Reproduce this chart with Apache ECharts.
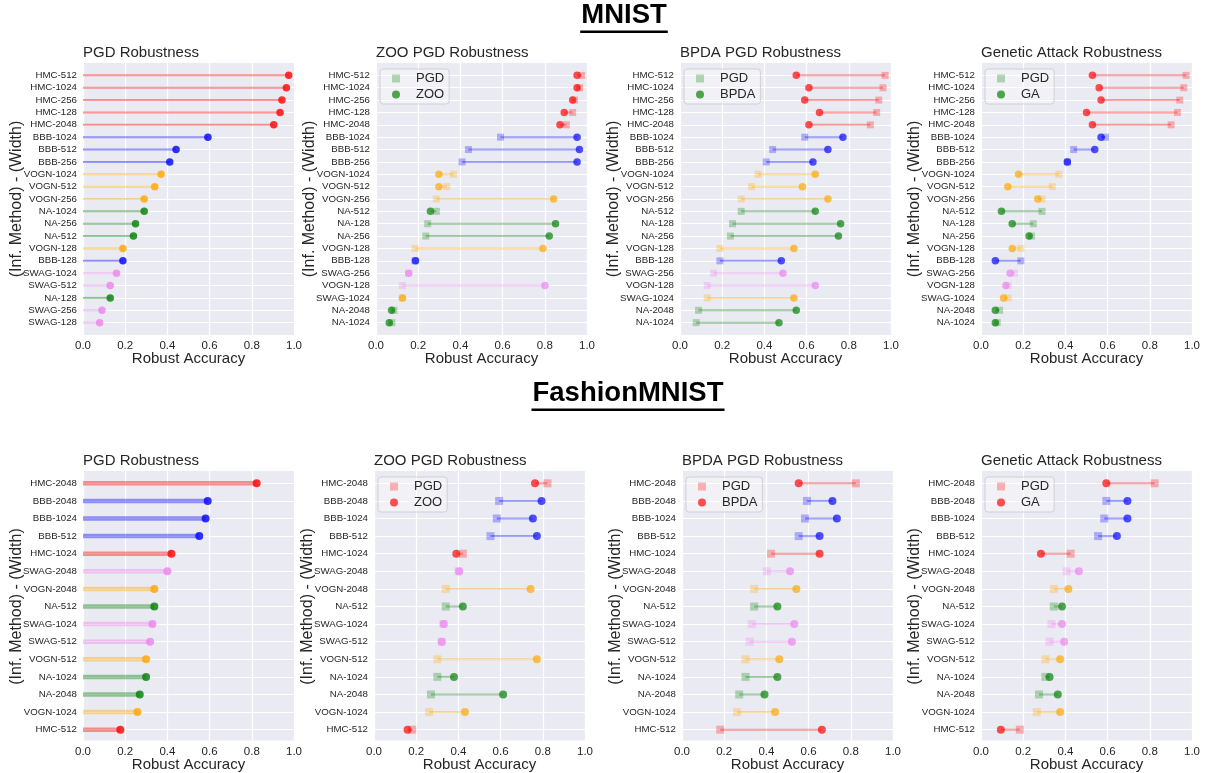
<!DOCTYPE html>
<html>
<head>
<meta charset="utf-8">
<title>Robustness</title>
<script src="https://cdn.jsdelivr.net/npm/echarts@6/dist/echarts.min.js"></script>
<style>
  html, body { margin: 0; padding: 0; background: #fff; }
  #chart { width: 1210px; height: 773px; }
</style>
</head>
<body>
<div id="chart"></div>
<script>
// ---- MNIST ----
const mnistPgdCats = ['HMC-512', 'HMC-1024', 'HMC-256', 'HMC-128', 'HMC-2048', 'BBB-1024', 'BBB-512', 'BBB-256',
  'VOGN-1024', 'VOGN-512', 'VOGN-256', 'NA-1024', 'NA-256', 'NA-512', 'VOGN-128', 'BBB-128',
  'SWAG-1024', 'SWAG-512', 'NA-128', 'SWAG-256', 'SWAG-128']
const mnistPgdVals = [0.975, 0.964, 0.943, 0.934, 0.904, 0.592, 0.441, 0.411, 0.370, 0.340, 0.290,
  0.290, 0.249, 0.239, 0.189, 0.189, 0.159, 0.129, 0.129, 0.090, 0.079]

const mnistAtkCats = ['HMC-512', 'HMC-1024', 'HMC-256', 'HMC-128', 'HMC-2048', 'BBB-1024', 'BBB-512', 'BBB-256',
  'VOGN-1024', 'VOGN-512', 'VOGN-256', 'NA-512', 'NA-128', 'NA-256', 'VOGN-128', 'BBB-128',
  'SWAG-256', 'VOGN-128', 'SWAG-1024', 'NA-2048', 'NA-1024']
// colour group of each row (as drawn in the original)
const mnistAtkGroups = ['HMC', 'HMC', 'HMC', 'HMC', 'HMC', 'BBB', 'BBB', 'BBB', 'VOGN', 'VOGN', 'VOGN',
  'NA', 'NA', 'NA', 'VOGN', 'BBB', 'SWAG', 'SWAG', 'VOGN', 'NA', 'NA']

const mnistZooPgd = [0.975, 0.965, 0.941, 0.932, 0.902, 0.590, 0.438, 0.408, 0.367, 0.335, 0.286,
  0.286, 0.245, 0.236, 0.185, 0.185, 0.155, 0.125, 0.125, 0.085, 0.075]
const mnistZoo = [0.953, 0.953, 0.932, 0.892, 0.872, 0.953, 0.964, 0.953, 0.298, 0.298, 0.842,
  0.258, 0.851, 0.821, 0.791, 0.187, 0.155, 0.801, 0.125, 0.074, 0.063]

const mnistBpdaPgd = [0.972, 0.962, 0.942, 0.932, 0.902, 0.591, 0.439, 0.409, 0.370, 0.339, 0.290,
  0.290, 0.249, 0.239, 0.189, 0.189, 0.159, 0.129, 0.129, 0.088, 0.077]
const mnistBpda = [0.551, 0.611, 0.591, 0.661, 0.611, 0.772, 0.701, 0.630, 0.641, 0.580, 0.701,
  0.641, 0.761, 0.751, 0.540, 0.480, 0.488, 0.641, 0.540, 0.551, 0.469]

const mnistGaPgd = [0.972, 0.961, 0.942, 0.931, 0.901, 0.590, 0.439, 0.410, 0.369, 0.338, 0.289,
  0.289, 0.248, 0.239, 0.189, 0.189, 0.159, 0.129, 0.129, 0.088, 0.077]
const mnistGa = [0.528, 0.560, 0.569, 0.500, 0.528, 0.569, 0.539, 0.409, 0.178, 0.127, 0.269,
  0.097, 0.148, 0.228, 0.148, 0.068, 0.138, 0.118, 0.107, 0.068, 0.068]

// ---- FashionMNIST ----
const fashionCats = ['HMC-2048', 'BBB-2048', 'BBB-1024', 'BBB-512', 'HMC-1024', 'SWAG-2048', 'VOGN-2048',
  'NA-512', 'SWAG-1024', 'SWAG-512', 'VOGN-512', 'NA-1024', 'NA-2048', 'VOGN-1024', 'HMC-512']
const fashionPgdVals = [0.823, 0.591, 0.581, 0.551, 0.419, 0.400, 0.338, 0.338, 0.329, 0.318, 0.299,
  0.299, 0.269, 0.258, 0.177]

const fashionZooPgd = [0.822, 0.593, 0.582, 0.552, 0.421, 0.401, 0.340, 0.340, 0.330, 0.321, 0.300,
  0.300, 0.270, 0.261, 0.181]
const fashionZoo = [0.763, 0.794, 0.753, 0.772, 0.390, 0.403, 0.742, 0.421, 0.330, 0.321, 0.772,
  0.379, 0.612, 0.431, 0.159]

const fashionBpdaPgd = [0.824, 0.592, 0.583, 0.553, 0.422, 0.402, 0.342, 0.342, 0.331, 0.321, 0.301,
  0.301, 0.271, 0.261, 0.181]
const fashionBpda = [0.553, 0.713, 0.734, 0.652, 0.652, 0.512, 0.542, 0.452, 0.532, 0.521, 0.461,
  0.452, 0.391, 0.441, 0.663]

const fashionGaPgd = [0.823, 0.594, 0.584, 0.555, 0.425, 0.406, 0.345, 0.345, 0.334, 0.325, 0.305,
  0.305, 0.275, 0.264, 0.184]
const fashionGa = [0.594, 0.694, 0.694, 0.644, 0.284, 0.464, 0.414, 0.384, 0.384, 0.394, 0.375,
  0.325, 0.364, 0.375, 0.094]

const xTicks = [0, 0.2, 0.4, 0.6, 0.8, 1.0]

// ---- styling ----
const FONT = "Arial, 'Liberation Sans', sans-serif"
const TXT = '#262626'
const BG = '#EAEAF2'
const groupColor = { HMC: '#ff0000', BBB: '#0000ff', VOGN: '#ffa500', NA: '#008000', SWAG: '#ee82ee' }
const rgba = (hex, a) => {
  const n = parseInt(hex.slice(1), 16)
  return `rgba(${(n >> 16) & 255},${(n >> 8) & 255},${n & 255},${a})`
}
const prefix = (c) => c.split('-')[0]

const rows = [
  { top: 63, height: 272, lolliWidth: 2, dot: 7.5, square: 7 },
  { top: 471, height: 271, lolliWidth: 4.5, dot: 8, square: 8 },
]
const lefts = [[83, 376, 680, 981], [83, 374, 682, 981]]
const plotW = 211

const panels = [
  { row: 0, col: 0, title: 'PGD Robustness', cats: mnistPgdCats, groups: mnistPgdCats.map(prefix), pgd: mnistPgdVals },
  { row: 0, col: 1, title: 'ZOO PGD Robustness', cats: mnistAtkCats, groups: mnistAtkGroups, pgd: mnistZooPgd, atk: mnistZoo, atkName: 'ZOO' },
  { row: 0, col: 2, title: 'BPDA PGD Robustness', cats: mnistAtkCats, groups: mnistAtkGroups, pgd: mnistBpdaPgd, atk: mnistBpda, atkName: 'BPDA' },
  { row: 0, col: 3, title: 'Genetic Attack Robustness', cats: mnistAtkCats, groups: mnistAtkGroups, pgd: mnistGaPgd, atk: mnistGa, atkName: 'GA' },
  { row: 1, col: 0, title: 'PGD Robustness', cats: fashionCats, groups: fashionCats.map(prefix), pgd: fashionPgdVals },
  { row: 1, col: 1, title: 'ZOO PGD Robustness', cats: fashionCats, groups: fashionCats.map(prefix), pgd: fashionZooPgd, atk: fashionZoo, atkName: 'ZOO' },
  { row: 1, col: 2, title: 'BPDA PGD Robustness', cats: fashionCats, groups: fashionCats.map(prefix), pgd: fashionBpdaPgd, atk: fashionBpda, atkName: 'BPDA' },
  { row: 1, col: 3, title: 'Genetic Attack Robustness', cats: fashionCats, groups: fashionCats.map(prefix), pgd: fashionGaPgd, atk: fashionGa, atkName: 'GA' },
]

// draws a horizontal segment between two x values on one row
const segmentRenderer = (width) => (params, api) => {
  const a = api.coord([api.value(0), api.value(2)])
  const b = api.coord([api.value(1), api.value(2)])
  return {
    type: 'line',
    shape: { x1: a[0], y1: a[1], x2: b[0], y2: b[1] },
    style: { stroke: api.visual('color'), lineWidth: width },
  }
}

const option = {
  backgroundColor: '#fff',
  animation: false,
  textStyle: { fontFamily: FONT },
  grid: [], xAxis: [], yAxis: [], series: [], legend: [], title: [], graphic: [],
}

panels.forEach((p) => {
  const r = rows[p.row]
  const left = lefts[p.row][p.col]
  const n = p.cats.length
  const pad = r.height / 22 // 5% margin on the row axis
  const outer = option.grid.length
  const inner = outer + 1
  option.grid.push({ left, top: r.top, width: plotW, height: r.height, show: true, backgroundColor: BG, borderWidth: 0 })
  option.grid.push({ left, top: r.top + pad, width: plotW, height: r.height - 2 * pad })

  // outer: background, vertical grid lines, x ticks
  option.xAxis.push({
    gridIndex: outer, type: 'value', min: xTicks[0], max: xTicks[xTicks.length - 1], interval: 0.2,
    axisLine: { show: false }, axisTick: { show: false },
    axisLabel: { formatter: (v) => v.toFixed(1), fontSize: 11.5, color: TXT, margin: 5, fontFamily: FONT },
    splitLine: { lineStyle: { color: '#fff', width: 1.2 } },
    name: 'Robust Accuracy', nameLocation: 'middle', nameGap: 16.5, nameMoveOverlap: false,
    nameTextStyle: { fontSize: 15, color: TXT, fontFamily: FONT, verticalAlign: 'top' },
  })
  option.yAxis.push({ gridIndex: outer, type: 'value', min: 0, max: 1, show: false })

  // inner: rows
  const xi = option.xAxis.length
  option.xAxis.push({ gridIndex: inner, type: 'value', min: 0, max: 1, show: false })
  const yi = option.yAxis.length
  option.yAxis.push({
    gridIndex: inner, type: 'value', min: 0, max: n - 1, interval: 1, inverse: true,
    axisLine: { show: false }, axisTick: { show: false },
    axisLabel: { formatter: (v) => p.cats[Math.round(v)] || '', fontSize: 9.7, color: TXT, margin: 6, fontFamily: FONT },
    splitLine: { lineStyle: { color: '#fff', width: 1.2 } },
    name: '(Inf. Method) - (Width)', nameLocation: 'middle', nameGap: 58, nameRotate: 90, nameMoveOverlap: false,
    nameTextStyle: { fontSize: 16, color: TXT, fontFamily: FONT },
  })

  option.title.push({
    text: p.title, left, top: r.top - 18, padding: 0,
    textStyle: { fontSize: 15, fontWeight: 'normal', color: TXT, fontFamily: FONT },
  })

  const colors = p.groups.map((g) => groupColor[g])

  if (!p.atk) {
    option.series.push({
      type: 'custom', xAxisIndex: xi, yAxisIndex: yi, renderItem: segmentRenderer(r.lolliWidth),
      encode: { x: [0, 1], y: 2 },
      data: p.pgd.map((v, i) => ({ value: [0, v, i], itemStyle: { color: rgba(colors[i], 0.4) } })),
    })
    option.series.push({
      type: 'scatter', xAxisIndex: xi, yAxisIndex: yi, symbolSize: r.dot,
      data: p.pgd.map((v, i) => ({ value: [v, i], itemStyle: { color: colors[i] } })),
    })
    return
  }

  const legendColor = groupColor[p.groups[p.groups.length - 1]]
  option.series.push({
    name: 'PGD', type: 'scatter', xAxisIndex: xi, yAxisIndex: yi, symbol: 'rect', symbolSize: r.square,
    itemStyle: { color: rgba(legendColor, 0.35) },
    data: p.pgd.map((v, i) => ({ value: [v, i], itemStyle: { color: rgba(colors[i], 0.35) } })),
  })
  option.series.push({
    type: 'custom', xAxisIndex: xi, yAxisIndex: yi, renderItem: segmentRenderer(2),
    encode: { x: [0, 1], y: 2 },
    data: p.pgd.map((v, i) => ({ value: [v, p.atk[i], i], itemStyle: { color: rgba(colors[i], 0.35) } })),
  })
  option.series.push({
    name: p.atkName, type: 'scatter', xAxisIndex: xi, yAxisIndex: yi, symbolSize: r.dot,
    itemStyle: { color: rgba(legendColor, 0.85) },
    data: p.atk.map((v, i) => ({ value: [v, i], itemStyle: { color: rgba(colors[i], 0.85) } })),
  })
  option.legend.push({
    left: left + 4, top: r.top + 6, orient: 'vertical', selectedMode: false,
    data: [
      { name: 'PGD', icon: 'rect', itemStyle: { color: rgba(legendColor, 0.35) } },
      { name: p.atkName, icon: 'circle', itemStyle: { color: rgba(legendColor, 0.85) } },
    ],
    itemWidth: 8, itemHeight: 8, itemGap: 3,
    textStyle: { fontSize: 13, color: TXT, fontFamily: FONT, padding: [0, 0, 0, 11] },
    padding: [3, 5, 3, 12],
    backgroundColor: 'rgba(255,255,255,0.35)', borderColor: 'rgba(204,204,214,0.9)', borderWidth: 1, borderRadius: 3,
  })
})

// section headings with underline
const measure = (() => {
  const ctx = document.createElement('canvas').getContext('2d')
  return (text, font) => { ctx.font = font; return ctx.measureText(text).width }
})()
const headings = [
  { text: 'MNIST', cx: 624, capTop: 7 },
  { text: 'FashionMNIST', cx: 628, capTop: 385 },
]
const headFont = `bold 27.5px ${FONT}`
headings.forEach((h) => {
  const w = measure(h.text, headFont)
  option.graphic.push({
    type: 'text', x: h.cx, y: h.capTop - 6,
    style: { text: h.text, font: headFont, fill: '#000', textAlign: 'center', textVerticalAlign: 'top' },
  })
  option.graphic.push({
    type: 'rect', shape: { x: h.cx - w / 2 - 1, y: h.capTop + 23.5, width: w + 2, height: 2.5 },
    style: { fill: '#000' },
  })
})

const myChart = echarts.init(document.getElementById('chart'), null, { renderer: 'canvas' })
myChart.setOption(option)
</script>
</body>
</html>
